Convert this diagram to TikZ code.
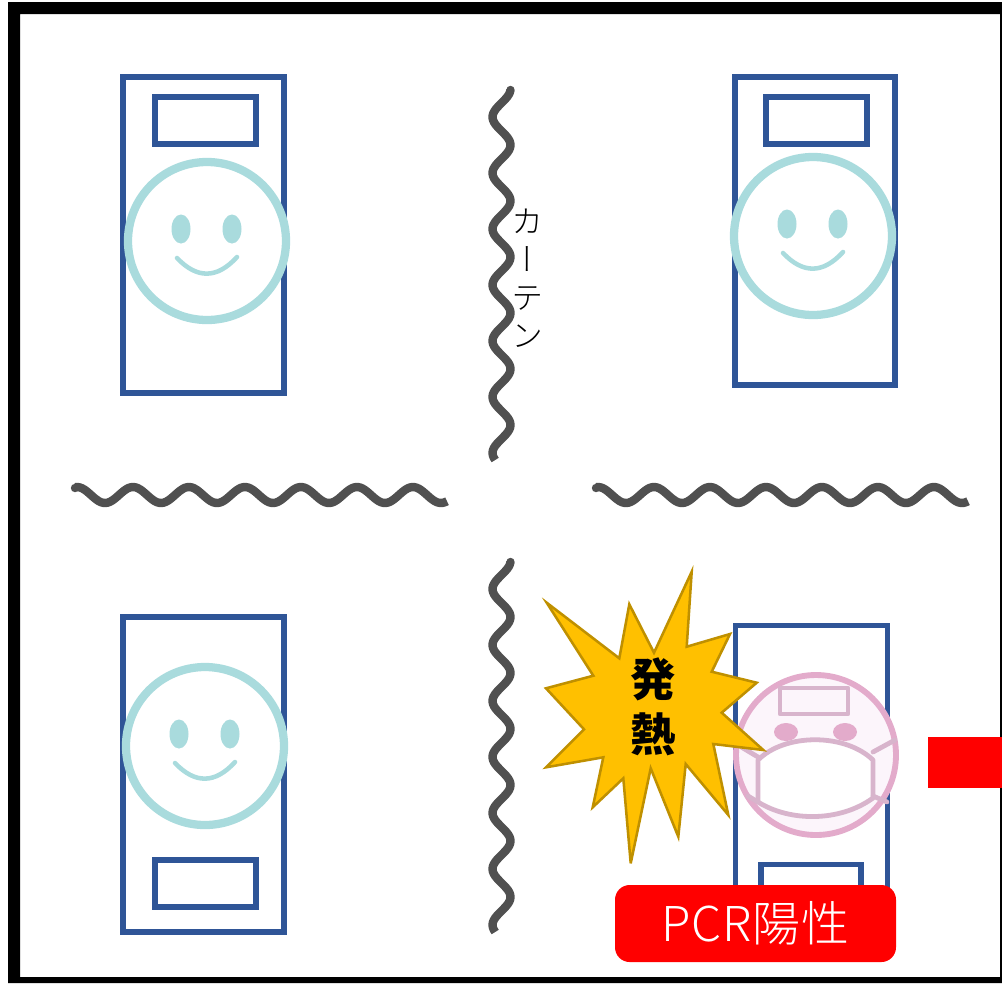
\documentclass[tikz,border=0pt]{standalone}
\usepackage{fontspec}
\setmainfont{Noto Sans CJK JP}
\newfontfamily\cjklight{Noto Sans CJK JP Light}
\newfontfamily\cjkvert[RawFeature=+vert]{Noto Sans CJK JP Light}
\usetikzlibrary{positioning}
\definecolor{bedBlue}{HTML}{2F5597}
\definecolor{faceTeal}{HTML}{A9DBDD}
\definecolor{curtainGray}{HTML}{505050}
\definecolor{starGold}{HTML}{FFC000}
\definecolor{starEdge}{HTML}{BF9000}
\definecolor{sickPink}{HTML}{E3ABCB}
\definecolor{sickGray}{HTML}{D8B4CC}
\definecolor{sickFill}{HTML}{FCF5FB}
\tikzset{
  bedline/.style={draw=bedBlue, line width=4.2pt, miter limit=4},
  curtain/.style={curtainGray, line width=6.3pt, line join=round},
  faceline/.style={draw=faceTeal, fill=white, line width=6.2pt},
  sickline/.style={draw=sickGray, line width=3.6pt, line join=round, line cap=round}
}
\begin{document}
\begin{tikzpicture}[x=0.75pt, y=-0.75pt]
  \useasboundingbox (0,0) rectangle (1002,983);
  % room
  \fill[black, even odd rule] (8,2) rectangle (1002,983) (20,14) rectangle (1000,977);
  % beds
  \foreach \bx/\by/\bw/\bh/\px/\py in {123/77/161/316/155/97, 735/77/160/308/766/97, 123/617/161/315/155/860}{
    \draw[bedline] (\bx,\by) rectangle ++(\bw,\bh);
    \draw[bedline] (\px,\py) rectangle ++(101,47);
  }
  \draw[bedline] (735.5,625.5) rectangle (887.5,930);
  \draw[bedline] (761,864.5) rectangle (861,930);
  % faces
  \foreach \fx/\fy in {207/241, 813/236, 205/746}{
    \draw[faceline] (\fx,\fy) circle (79);
    \fill[faceTeal] (\fx-26,\fy-12) ellipse (9.5 and 14.5);
    \fill[faceTeal] (\fx+25,\fy-12) ellipse (9.5 and 14.5);
    \draw[faceTeal, line width=3.4pt, line cap=round] (\fx-30,\fy+17) .. controls (\fx-10,\fy+38) and (\fx+10,\fy+38) .. (\fx+30,\fy+16);
  }
  % curtains
  \foreach \cy in {90,562}{
    \draw[curtain] plot[domain=0:370, samples=160] ({501.5+9*cos(6.43*(\x-55))},{\cy+\x});
    \fill[curtainGray] (510.5,\cy) circle (4.2);}
  \foreach \cx in {75,596}{
    \draw[curtain] plot[domain=0:372, samples=160] ({\cx+\x},{495-8*cos(6.43*(\x-58))});
    \fill[curtainGray] (\cx,488) circle (4.2);}
  \node[font=\fontsize{24}{28.5}\selectfont\cjkvert, align=center, inner sep=0pt] (curtainlabel) at (527,278) {カ\\ー\\テ\\ン};
  % patient with a mask
  \draw[draw=sickPink, fill=sickFill, line width=4.4pt] (816,755) circle (80);
  \draw[sickline] (780,688) rectangle (848,714);
  \fill[sickPink] (786,732) ellipse (12 and 9);
  \fill[sickPink] (845,732) ellipse (12 and 9);
  \draw[sickline, fill=white] (758,760) .. controls (785,733) and (845,733) .. (873,760)
      -- (873,798) .. controls (840,822) and (790,822) .. (758,802) -- cycle;
  \draw[sickline] (873,752) -- (895,740);
  \draw[sickline] (873,796) -- (887,802);
  \draw[sickline] (758,757) -- (738,745);
  \draw[sickline] (758,802) -- (748,796);
  % fever
  \draw[fill=starGold, draw=starEdge, line width=1.9pt, miter limit=6]
    (691.7,571.7) -- (686.7,646.7) -- (730,634) -- (711.7,671.7) -- (756.7,682.7) -- (721.7,712.7)
    -- (763.3,750) -- (713.3,744) -- (728.3,815) -- (685.7,764) -- (678.3,836.7) -- (650.7,768.3)
    -- (630.7,863.3) -- (623.3,778.3) -- (592.7,807.3) -- (603.3,757.3) -- (546,767.3) -- (584,729.3)
    -- (546,688.3) -- (593.3,675.7) -- (546.7,602.7) -- (619.3,658.3) -- (629.3,604.3) -- (654,652.7) -- cycle;
  \node[font=\fontsize{34}{41}\selectfont\bfseries, align=center, inner sep=0pt] (fever) at (653,707) {発\\熱};
  % PCR result
  \fill[red] (928,737) rectangle (1002,788);
  \node[fill=red, rounded corners=11pt, minimum width=210.75pt, minimum height=57.75pt, inner sep=0pt,
        text=white, font=\fontsize{36}{40}\selectfont\cjklight\addfontfeature{LetterSpace=2}] (pcr) at (755.5,923.5) {PCR陽性};
\end{tikzpicture}
\end{document}
